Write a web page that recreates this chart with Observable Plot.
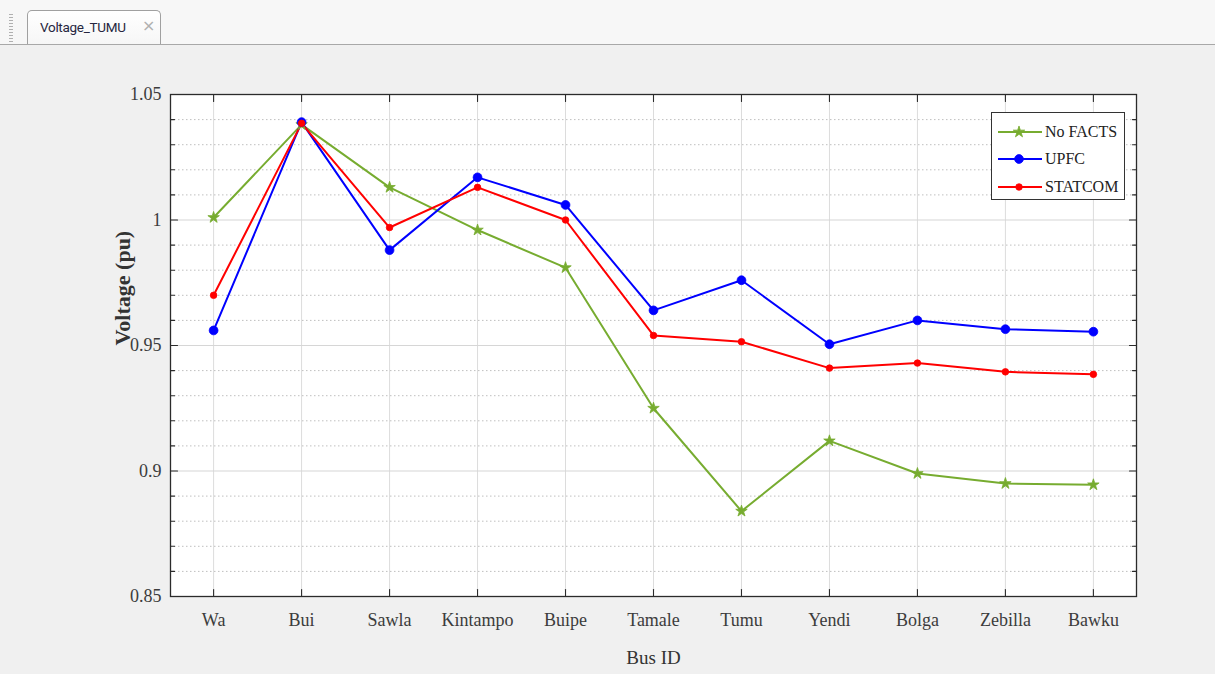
<!DOCTYPE html>
<html><head><meta charset="utf-8">
<script src="https://cdn.jsdelivr.net/npm/d3@7"></script>
<script src="https://cdn.jsdelivr.net/npm/@observablehq/plot@0.6"></script>
<style>
html,body{margin:0;padding:0;}
body{background:#f0f0f0;width:1215px;height:674px;overflow:hidden;position:relative;font-family:"Liberation Serif","Times New Roman",serif;}
#chart{position:absolute;left:0;top:0;}
#topbar{position:absolute;left:0;top:0;width:1215px;height:44px;background:#f7f7f7;border-bottom:1px solid #a8a8a8;}
#grip{position:absolute;left:9px;top:14px;width:4px;height:28px;background:repeating-linear-gradient(#b0b0b0 0 1px,transparent 1px 3px);}
#tab{position:absolute;left:27px;top:10px;width:134px;height:34px;background:linear-gradient(#ffffff,#f6f6f6);border:1px solid #a0a0a0;border-bottom:none;border-radius:5px 5px 0 0;box-sizing:border-box;}
#tab .t{position:absolute;left:12px;top:8px;font-family:Roboto,"Open Sans",sans-serif;font-size:13.5px;color:#262640;letter-spacing:-0.3px;}
#tab .x{position:absolute;left:114px;top:5px;font-family:"DejaVu Sans",sans-serif;font-size:16px;color:#b0b0b0;}
#legend{position:absolute;left:991px;top:112px;width:134px;height:88px;background:#fff;border:1px solid #333;box-sizing:border-box;}
#legend .row{position:absolute;left:5px;height:20px;display:flex;align-items:center;}
#legend .row span{font-size:16px;color:#222;margin-left:2px;}
</style></head><body>
<div id="chart"></div>
<div id="topbar"><div id="grip"></div><div id="tab"><span class="t">Voltage_TUMU</span><span class="x">×</span></div></div>
<div id="legend"></div>
<script>
// ---- data ----
const buses = ["Wa","Bui","Sawla","Kintampo","Buipe","Tamale","Tumu","Yendi","Bolga","Zebilla","Bawku"];
const noFacts = [1.001,1.038,1.013,0.996,0.981,0.925,0.884,0.912,0.899,0.895,0.8945];
const upfc    = [0.956,1.039,0.988,1.017,1.006,0.964,0.976,0.9505,0.960,0.9565,0.9555];
const statcom = [0.970,1.0385,0.997,1.013,1.000,0.954,0.9515,0.941,0.943,0.9395,0.9385];
const seriesNames = ["No FACTS","UPFC","STATCOM"];
const seriesColors = ["#77ac30","#0000ff","#ff0000"];
const seriesSymbols = ["star","circle","circle"];
const seriesRadius = [3.6,4.4,3.3];
const yMajorTicks = [0.85,0.9,0.95,1,1.05];
const yTickLabels = ["0.85","0.9","0.95","1","1.05"];
const yMinorTicks = [0.86,0.87,0.88,0.89,0.91,0.92,0.93,0.94,0.96,0.97,0.98,0.99,1.01,1.02,1.03,1.04];
const xLabel = "Bus ID";
const yLabel = "Voltage (pu)";

const seriesValues = [noFacts, upfc, statcom];
const data = seriesNames.flatMap((s, k) => buses.map((b, i) => ({bus: b, series: s, v: seriesValues[k][i]})));

const serif = "'Liberation Serif','Times New Roman',serif";
const axisColor = "#2b2b2b";
const tickShape = {draw(context, l) { context.moveTo(0, 0); context.lineTo(0, -l); }};
const tick = (arr, opts) => Plot.vector(arr, {anchor: "start", shape: tickShape, stroke: axisColor, strokeWidth: 1.1, ...opts});

const plot = Plot.plot({
  width: 1215, height: 674,
  marginLeft: 170, marginRight: 79, marginTop: 94, marginBottom: 78,
  style: {background: "transparent", fontFamily: serif, fontSize: "18px", color: "#3c3c3c", overflow: "visible"},
  x: {type: "point", domain: buses, padding: 0.49, round: false, label: null},
  y: {domain: [0.85, 1.05], label: null},
  color: {domain: seriesNames, range: seriesColors},
  marks: [
    Plot.frame({fill: "white", stroke: null}),
    Plot.ruleX(buses, {x: d => d, stroke: "#dcdcdc", strokeWidth: 1}),
    Plot.ruleY(yMinorTicks, {y: d => d, stroke: "#bfbfbf", strokeWidth: 1, strokeDasharray: "1.5,2.5"}),
    Plot.ruleY(yMajorTicks, {y: d => d, stroke: "#d6d6d6", strokeWidth: 1.2}),
    Plot.line(data, {x: "bus", y: "v", z: "series", stroke: "series", strokeWidth: 2}),
    ...seriesNames.map((s, k) => Plot.dot(data.filter(d => d.series === s), {
      x: "bus", y: "v", symbol: seriesSymbols[k], r: seriesRadius[k], fill: "series", stroke: "series", strokeWidth: 0.8
    })),
    Plot.frame({stroke: axisColor, strokeWidth: 1.3}),
    // inward ticks
    tick(buses, {x: d => d, frameAnchor: "bottom", rotate: 0, length: 7}),
    tick(buses, {x: d => d, frameAnchor: "top", rotate: 180, length: 7}),
    tick(yMajorTicks, {y: d => d, frameAnchor: "left", rotate: 90, length: 7}),
    tick(yMinorTicks, {y: d => d, frameAnchor: "left", rotate: 90, length: 4}),
    tick(yMajorTicks, {y: d => d, frameAnchor: "right", rotate: -90, length: 7}),
    tick(yMinorTicks, {y: d => d, frameAnchor: "right", rotate: -90, length: 4}),
    // tick labels
    Plot.axisX(buses, {anchor: "bottom", tickSize: 0, tickPadding: 17, label: null, fontSize: 18, color: "#3c3c3c"}),
    Plot.axisY(yMajorTicks, {anchor: "left", tickSize: 0, tickPadding: 9, label: null, fontSize: 18, color: "#3c3c3c",
      tickFormat: d => yTickLabels[yMajorTicks.indexOf(d)]}),
    // axis titles
    Plot.text([xLabel], {frameAnchor: "bottom", dy: 61, text: d => d, fontSize: 19, fill: "#333", lineAnchor: "middle"}),
    Plot.text([yLabel], {frameAnchor: "left", dx: -48, text: d => d, rotate: -90, fontSize: 22, fontWeight: "bold", fill: "#333", lineAnchor: "middle"})
  ]
});
document.getElementById("chart").appendChild(plot);

// legend
const legend = document.getElementById("legend");
const rowTops = [9, 36, 64];
seriesNames.forEach((s, k) => {
  const row = document.createElement("div");
  row.className = "row";
  row.style.top = rowTops[k] + "px";
  const sym = d3.symbol(k === 0 ? d3.symbolStar : d3.symbolCircle, Math.PI * seriesRadius[k] * seriesRadius[k])();
  row.innerHTML = `<svg width="46" height="20"><line x1="1" x2="45" y1="10" y2="10" stroke="${seriesColors[k]}" stroke-width="2"/>` +
    `<path d="${sym}" transform="translate(22,10)" fill="${seriesColors[k]}" stroke="${seriesColors[k]}" stroke-width="0.8"/></svg><span>${s}</span>`;
  legend.appendChild(row);
});
</script>
</body></html>
